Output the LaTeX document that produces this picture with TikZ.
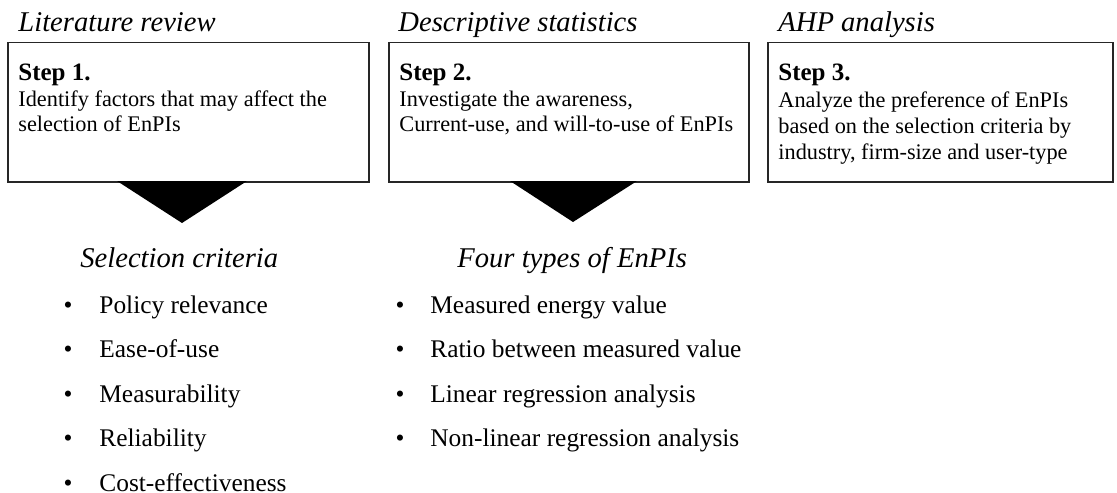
\documentclass[tikz,border=0pt]{standalone}
\usepackage{fontspec}
\setmainfont{Liberation Serif}
\usetikzlibrary{positioning}

\tikzset{
    stepbox/.style={draw=black!85, line width=0.75pt, anchor=north west, inner sep=0pt},
    phase/.style={anchor=base west, inner sep=0pt, font=\fontsize{14.3}{17}\selectfont\itshape},
    steptitle/.style={anchor=base west, inner sep=0pt, font=\fontsize{12.5}{15}\selectfont\bfseries},
    steptext/.style={anchor=base west, inner sep=0pt, align=left, font=\fontsize{11.15}{12.85}\selectfont},
    listitem/.style={anchor=base west, inner sep=0pt, font=\fontsize{12.7}{15}\selectfont},
    bulletmark/.style={anchor=base, inner sep=0pt, font=\fontsize{12.7}{15}\selectfont}
}

\begin{document}
\begin{tikzpicture}[x=0.5pt, y=-0.5pt]
    \useasboundingbox (0,0) rectangle (1117,492);

    % Phase titles
    \node[phase] (lit) at (18,32) {Literature review};
    \node[phase] (desc) at (398,32) {Descriptive statistics};
    \node[phase] (ahp) at (778,32) {AHP analysis};

    % Step boxes
    \node[stepbox, minimum width=180.5pt, minimum height=69.5pt] (box1) at (7,42) {};
    \node[stepbox, minimum width=180pt, minimum height=69.5pt] (box2) at (388,42) {};
    \node[stepbox, minimum width=172.5pt, minimum height=69.5pt] (box3) at (767,42) {};

    % base of a two/three line text is its last line
    \node[steptitle] (step1) at (18,81) {Step 1.};
    \node[steptext] (text1) at (18,132) {Identify factors that may affect the\\selection of EnPIs};

    \node[steptitle] (step2) at (399,81) {Step 2.};
    \node[steptext] (text2) at (399,132) {Investigate the awareness,\\Current-use, and will-to-use of EnPIs};

    \node[steptitle] (step3) at (778,81) {Step 3.};
    \node[steptext] (text3) at (778,159) {Analyze the preference of EnPIs\\based on the selection criteria by\\industry, firm-size and user-type};

    % Arrows down
    \fill[black] (117,181) -- (247,181) -- (182,223) -- cycle;
    \fill[black] (510,181) -- (637,181) -- (573,222) -- cycle;

    % Selection criteria
    \node[phase] (crit) at (80,267) {Selection criteria};
    \foreach \txt [count=\i] in {Policy relevance, Ease-of-use, Measurability, Reliability, Cost-effectiveness}{
        \node[bulletmark] (cdot\i) at (68,313+44.5*\i-44.5) {\textbullet};
        \node[listitem] (crit\i) at (99,313+44.5*\i-44.5) {\txt};
    }

    % Types of EnPIs
    \node[phase] (types) at (457,267) {Four types of EnPIs};
    \foreach \txt [count=\i] in {Measured energy value, Ratio between measured value, Linear regression analysis, Non-linear regression analysis}{
        \node[bulletmark] (tdot\i) at (400,313+44.5*\i-44.5) {\textbullet};
        \node[listitem] (type\i) at (430,313+44.5*\i-44.5) {\txt};
    }
\end{tikzpicture}
\end{document}
